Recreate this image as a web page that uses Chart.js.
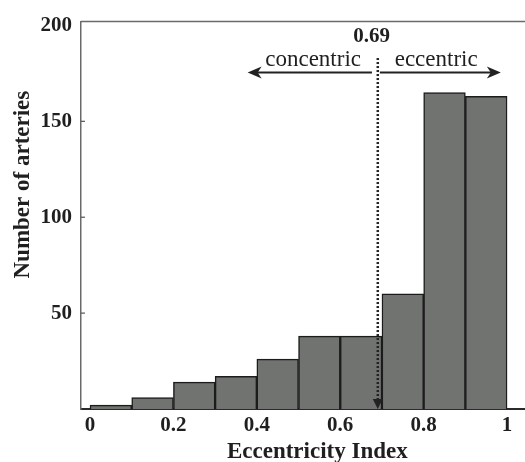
<!DOCTYPE html>
<html>
<head>
<meta charset="utf-8">
<script src="https://cdn.jsdelivr.net/npm/chart.js@4.4.1/dist/chart.umd.min.js"></script>
<style>
html, body { margin: 0; padding: 0; background: #fff; }
canvas { display: block; }
</style>
</head>
<body>
<canvas id="hist" width="525" height="462"></canvas>
<script>
// histogram bins (centre of each 0.1-wide bin) and counts
const binCenters = [0.05, 0.15, 0.25, 0.35, 0.45, 0.55, 0.65, 0.75, 0.85, 0.95];
const counts = [2, 6, 14, 17, 26, 38, 38, 60, 165, 163];
const xTicks = [0, 0.2, 0.4, 0.6, 0.8, 1];
const yTicks = [0, 50, 100, 150, 200];
const cutoff = 0.69;
const leftLabel = "concentric";
const rightLabel = "eccentric";

const serif = "'Liberation Serif', 'DejaVu Serif', serif";
const ink = "#1f1f1f";

const annotations = {
    id: "annotations",
    afterDraw(chart) {
        const { ctx, chartArea: area, scales } = chart;
        const x = scales.x, y = scales.y;
        ctx.save();

        // top frame line
        ctx.strokeStyle = "#6a6a6a";
        ctx.lineWidth = 1.5;
        ctx.beginPath();
        ctx.moveTo(area.left, area.top);
        ctx.lineTo(area.right, area.top);
        ctx.stroke();

        // small inside tick marks on y axis
        ctx.strokeStyle = "#555";
        ctx.lineWidth = 1.2;
        yTicks.slice(1, -1).forEach((v) => {
            const py = y.getPixelForValue(v);
            ctx.beginPath();
            ctx.moveTo(area.left, py);
            ctx.lineTo(area.left + 4, py);
            ctx.stroke();
        });

        // dotted cutoff line with arrow head
        const cx = x.getPixelForValue(cutoff);
        const top = y.getPixelForValue(183);
        const bottom = y.getPixelForValue(0);
        ctx.strokeStyle = "#222";
        ctx.lineWidth = 2.5;
        ctx.setLineDash([2, 2]);
        ctx.beginPath();
        ctx.moveTo(cx, top);
        ctx.lineTo(cx, bottom - 6);
        ctx.stroke();
        ctx.setLineDash([]);
        ctx.fillStyle = "#222";
        ctx.beginPath();
        ctx.moveTo(cx - 5, bottom - 10);
        ctx.lineTo(cx + 5, bottom - 10);
        ctx.lineTo(cx, bottom);
        ctx.closePath();
        ctx.fill();

        // direction arrows
        const ay = y.getPixelForValue(175.5);
        const arrow = (from, to) => {
            const x0 = x.getPixelForValue(from);
            const x1 = x.getPixelForValue(to);
            const dir = Math.sign(x1 - x0);
            ctx.lineWidth = 2;
            ctx.strokeStyle = "#222";
            ctx.beginPath();
            ctx.moveTo(x0, ay);
            ctx.lineTo(x1 - dir * 8, ay);
            ctx.stroke();
            ctx.beginPath();
            ctx.moveTo(x1, ay);
            ctx.lineTo(x1 - dir * 14, ay - 6);
            ctx.lineTo(x1 - dir * 10, ay);
            ctx.lineTo(x1 - dir * 14, ay + 6);
            ctx.closePath();
            ctx.fill();
        };
        arrow(0.676, 0.378);
        arrow(0.695, 0.985);

        // labels
        ctx.fillStyle = ink;
        ctx.textAlign = "center";
        ctx.textBaseline = "middle";
        ctx.font = `bold 21px ${serif}`;
        ctx.fillText(String(cutoff), x.getPixelForValue(0.675), y.getPixelForValue(194));
        ctx.font = `23px ${serif}`;
        ctx.fillText(leftLabel, x.getPixelForValue(0.535), y.getPixelForValue(182));
        ctx.fillText(rightLabel, x.getPixelForValue(0.83), y.getPixelForValue(182));

        // axis titles
        ctx.font = `bold 23px ${serif}`;
        ctx.fillText("Eccentricity Index", x.getPixelForValue(0.545), 452);
        ctx.translate(23, y.getPixelForValue(117));
        ctx.rotate(-Math.PI / 2);
        ctx.fillText("Number of arteries", 0, 0);

        ctx.restore();
    },
};

new Chart(document.getElementById("hist"), {
    type: "bar",
    data: {
        datasets: [{
            data: binCenters.map((c, i) => ({ x: c, y: counts[i] })),
            backgroundColor: "#717371",
            borderColor: "#1c1c1c",
            borderWidth: 1.5,
            barPercentage: 1,
            categoryPercentage: 1,
        }],
    },
    options: {
        responsive: false,
        animation: false,
        devicePixelRatio: 1,
        layout: { padding: { top: 16, right: 0, left: 0, bottom: 0 } },
        plugins: { legend: { display: false }, tooltip: { enabled: false } },
        scales: {
            x: {
                type: "linear",
                offset: false,
                min: -0.0216,
                max: 1.043,
                grid: { display: false, drawTicks: false, offset: false },
                border: { display: true, color: "#2a2a2a", width: 2 },
                afterBuildTicks: (s) => { s.ticks = xTicks.map((v) => ({ value: v })); },
                afterFit: (s) => { s.height = 53; },
                ticks: {
                    padding: 4,
                    color: ink,
                    font: { family: serif, size: 21, weight: "bold" },
                    callback: (v) => String(v),
                },
            },
            y: {
                min: 0,
                max: 202,
                grid: { display: false, drawTicks: false },
                border: { display: true, color: "#6a6a6a", width: 1.5 },
                afterBuildTicks: (s) => { s.ticks = yTicks.map((v) => ({ value: v })); },
                afterFit: (s) => { s.width = 81; },
                ticks: {
                    padding: 9,
                    color: ink,
                    font: { family: serif, size: 21, weight: "bold" },
                    callback: (v) => (v === 0 ? "" : String(v)),
                },
            },
        },
    },
    plugins: [annotations],
});
</script>
</body>
</html>
